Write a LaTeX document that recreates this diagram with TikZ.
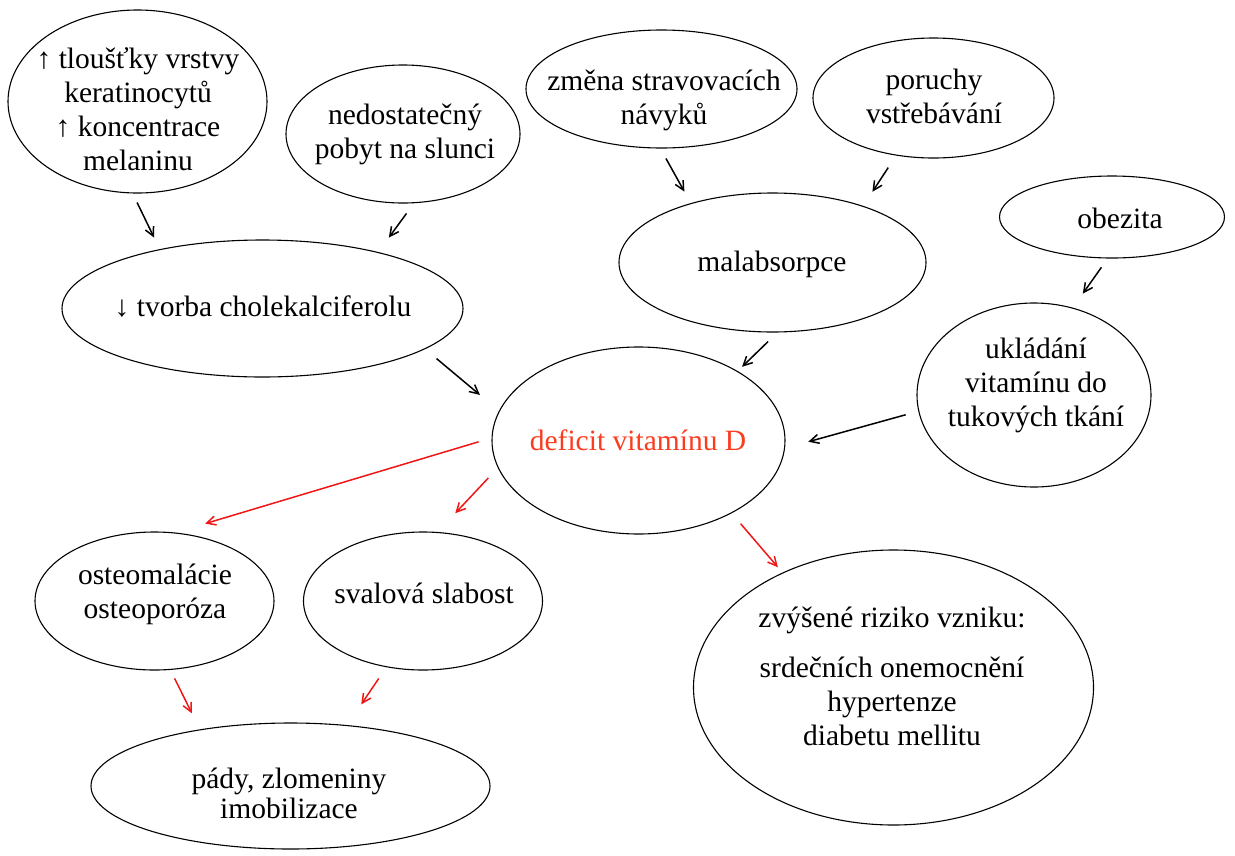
\documentclass[tikz,border=0pt]{standalone}
\usepackage{fontspec}
\setmainfont{LiberationSerif}[
    Extension=.ttf,
    UprightFont=*-Regular,
    BoldFont=*-Bold,
    ItalicFont=*-Italic,
    BoldItalicFont=*-BoldItalic
]
\usepackage{xcolor}
\definecolor{deficitRed}{RGB}{250,60,32}
\definecolor{effectRed}{RGB}{240,22,22}
\usetikzlibrary{
    shapes.geometric,
    arrows.meta,
    positioning
}

\begin{document}
\begin{tikzpicture}[
    x=1pt, y=-1pt,
    bubble/.style={
        ellipse, draw=black, line width=1.1pt, inner sep=0pt
    },
    bubbleText/.style={
        align=center, inner sep=0pt, text=black,
        font=\fontsize{29.5}{34}\selectfont
    },
    causeArrow/.style={
        -{Straight Barb[length=9pt, width=9pt]}, line width=1.5pt, draw=black
    },
    effectArrow/.style={
        -{Straight Barb[length=9pt, width=9pt]}, line width=1.5pt, draw=effectRed
    }
]
    \useasboundingbox (0,0) rectangle (1235,855);

    % Causes: skin and sunlight
    \node[bubble, minimum width=259pt, minimum height=183pt] (skin) at (137.5,101.5) {};
    \node[bubbleText] (skinText) at (138,109) {↑ tloušťky vrstvy\\keratinocytů\\↑ koncentrace\\melaninu};

    \node[bubble, minimum width=234pt, minimum height=138pt] (sun) at (403,134) {};
    \node[bubbleText] (sunText) at (405,134) {nedostatečný\\pobyt na slunci};

    \node[bubble, minimum width=401pt, minimum height=137pt] (chole) at (262.5,308.5) {};
    \node[bubbleText] (choleText) at (263,307) {↓ tvorba cholekalciferolu};

    % Causes: diet and absorption
    \node[bubble, minimum width=271pt, minimum height=118pt] (diet) at (661.5,89) {};
    \node[bubbleText] (dietText) at (664,100) {změna stravovacích\\návyků};

    \node[bubble, minimum width=241pt, minimum height=120pt] (absorb) at (933.5,98) {};
    \node[bubbleText] (absorbText) at (934,96) {poruchy\\vstřebávání};

    \node[bubble, minimum width=307pt, minimum height=139pt] (malabs) at (772.5,262.5) {};
    \node[bubbleText] (malabsText) at (772,264) {malabsorpce};

    % Causes: obesity
    \node[bubble, minimum width=225pt, minimum height=82pt] (obes) at (1112,217) {};
    \node[bubbleText] (obesText) at (1120,218) {obezita};

    \node[bubble, minimum width=234pt, minimum height=184pt] (store) at (1034,395) {};
    \node[bubbleText] (storeText) at (1036,385) {ukládání\\vitamínu do\\tukových tkání};

    % Central deficit
    \node[bubble, minimum width=293pt, minimum height=187pt] (deficit) at (638.5,440.5) {};
    \node[bubbleText, text=deficitRed] (deficitText) at (638,440) {deficit vitamínu D};

    % Consequences
    \node[bubble, minimum width=239pt, minimum height=138pt] (osteo) at (154.5,601) {};
    \node[bubbleText] (osteoText) at (155,594) {osteomalácie\\osteoporóza};

    \node[bubble, minimum width=239pt, minimum height=138pt] (muscle) at (423,601) {};
    \node[bubbleText] (muscleText) at (424,593) {svalová slabost};

    \node[bubble, minimum width=399pt, minimum height=126pt] (falls) at (290.5,786) {};
    \node[bubbleText, font=\fontsize{29.5}{30}\selectfont] (fallsText) at (289,793) {pády, zlomeniny\\imobilizace};

    \node[bubble, minimum width=400pt, minimum height=275pt] (risk) at (893.5,687.5) {};
    \node[bubbleText] (riskText) at (892,676) {zvýšené riziko vzniku:\\[16pt]srdečních onemocnění\\hypertenze\\diabetu mellitu};

    % Arrows into the deficit
    \draw[causeArrow, shorten <=10pt, shorten >=12.8pt] (skin.267) -- (chole.150);
    \draw[causeArrow, shorten <=12.6pt, shorten >=17.9pt] (sun.279) -- (chole.26);
    \draw[causeArrow, shorten <=14.8pt, shorten >=24.8pt] (chole.346) -- (deficit.168);
    \draw[causeArrow, shorten <=11.3pt, shorten >=13.2pt] (diet.269) -- (malabs.144);
    \draw[causeArrow, shorten <=14.4pt, shorten >=16.9pt] (absorb.237) -- (malabs.32);
    \draw[causeArrow, shorten <=12.9pt, shorten >=6.1pt] (malabs.274) -- (deficit.35);
    \draw[causeArrow, shorten <=10.8pt, shorten >=17.2pt] (obes.264) -- (store.66);
    \draw[causeArrow, shorten <=13.1pt, shorten >=24.1pt] (store.188) -- (deficit.357);

    % Arrows out of the deficit
    \draw[effectArrow, shorten <=13.5pt, shorten >=31pt] (deficit.179) -- (osteo.73);
    \draw[effectArrow, shorten <=13.9pt, shorten >=25.7pt] (deficit.191) -- (muscle.78);
    \draw[effectArrow, shorten <=13.7pt, shorten >=7pt] (deficit.322) -- (risk.134);
    \draw[effectArrow, shorten <=9.4pt, shorten >=17.9pt] (osteo.283) -- (falls.148);
    \draw[effectArrow, shorten <=13.6pt, shorten >=24.9pt] (muscle.241) -- (falls.47);

\end{tikzpicture}
\end{document}
